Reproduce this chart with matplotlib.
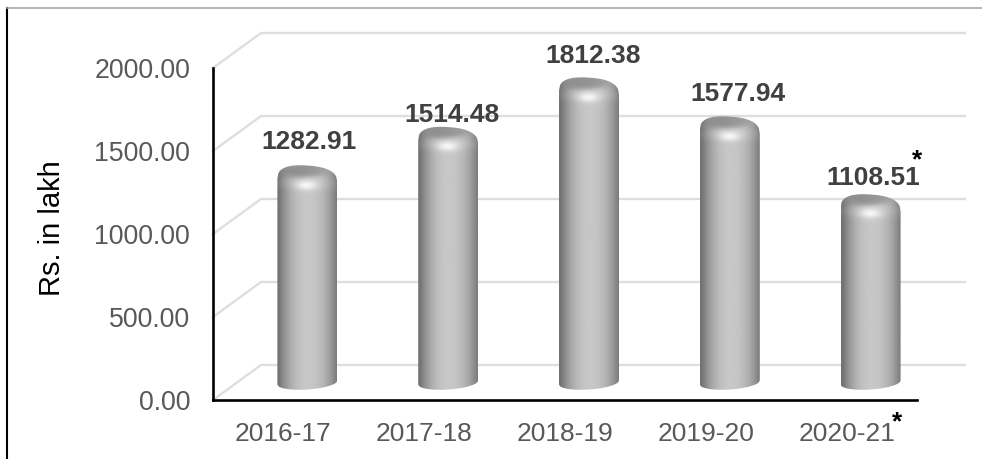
import matplotlib
matplotlib.use('Agg')
import matplotlib.pyplot as plt
import numpy as np
from matplotlib.lines import Line2D
from matplotlib.path import Path

years = ['2016-17', '2017-18', '2018-19', '2019-20', '2020-21']
values = [1282.91, 1514.48, 1812.38, 1577.94, 1108.51]
yticks = [0, 500, 1000, 1500, 2000]

# label shifts in pixels, they were placed by hand in the original
label_dx = [2, 4, 4, 8, 3]
label_dy = [28, 16, 26, 27, 20]

W, H = 982, 459
plt.rcParams['font.family'] = ['Liberation Sans', 'DejaVu Sans']

fig = plt.figure(figsize=(W / 100, H / 100), dpi=100)
left, right, top, bottom = 213, 917, 68, 400
ax = fig.add_axes([left / W, 1 - bottom / H, (right - left) / W, (bottom - top) / H])
ax.set_xlim(-0.5, 4.5)
ax.set_ylim(0, 2000)
ax.patch.set_alpha(0)

px_x = 5 / (right - left)
px_y = 2000 / (bottom - top)
back_x, back_y = 48 * px_x, 35 * px_y

# back wall lines and floor/wall diagonals
for t in yticks:
    ax.plot([-0.5, -0.5 + back_x, 4.5 + back_x], [t, t + back_y, t + back_y],
            color='#dedede', lw=1.7, clip_on=False, zorder=1, solid_joinstyle='miter')


def bar_image(nx, ny, dome):
    # grey levels for one cylinder, rows run from the top down
    u = np.linspace(-1, 1, nx)[None, :]
    v = np.arange(ny)[:, None] - dome
    g = 0.45 + 0.33 * (1 - np.abs(u - 0.05) ** 2.2).clip(0)
    # darker upper face
    face = np.exp(-((u / 0.95) ** 2 + ((v + 1 + 2 * u) / 8) ** 2) ** 2)
    g = g * (1 - face) + (0.58 + 0.06 * u) * face
    # soft shoulder and highlight below it
    g += 0.04 * np.exp(-((v - 12) / 6) ** 2)
    g += 0.16 * np.exp(-((u + 0.03) / 0.36) ** 2 - ((v - 15) / 4.5) ** 2)
    return np.clip(g, 0, 1)


rx = 30
for i, val in enumerate(values):
    cx = i + back_x / 2
    base = back_y / 2
    top_val = val + base
    u = np.linspace(-1, 1, 60)
    # outline in data units: rounded top, then the curved foot
    hump = (1 - np.abs(u) ** 2.5) ** (1 / 2.5)
    top_y = top_val - (11 + 2 * u - 15 * hump) * px_y
    foot_y = base - (7 * np.sqrt(1 - u ** 2) - 2 * u) * px_y
    xs = np.r_[cx + u * rx * px_x, cx + u[::-1] * rx * px_x]
    ys = np.r_[top_y, foot_y[::-1]]
    ext_top = top_val + 6 * px_y
    ext_bot = base - 10 * px_y
    ny = int((ext_top - ext_bot) / px_y)
    im = ax.imshow(bar_image(rx * 2, ny, 6), cmap='gray', vmin=0, vmax=1, aspect='auto',
                   extent=[cx - rx * px_x, cx + rx * px_x, ext_bot, ext_top],
                   zorder=3, interpolation='bilinear')
    im.set_clip_path(Path(np.c_[xs, ys]), transform=ax.transData)
    ax.annotate(f'{val:.2f}', (cx, top_val), xytext=(label_dx[i] * 0.72, label_dy[i] * 0.72),
                textcoords='offset points', ha='center', va='center', fontsize=19,
                fontweight='bold', color='#404040', zorder=4, annotation_clip=False)

ax.set_xlim(-0.5, 4.5)
ax.set_ylim(0, 2000)
ax.set_xticks(range(5), years)
ax.set_yticks(yticks, [f'{t:.2f}' for t in yticks])
ax.tick_params(axis='x', length=0, pad=15.5, labelsize=19, labelcolor='#595959')
ax.tick_params(axis='y', length=0, pad=16.5, labelsize=19.2, labelcolor='#595959')
for s in ['top', 'right']:
    ax.spines[s].set_visible(False)
for s in ['left', 'bottom']:
    ax.spines[s].set_linewidth(1.9)
    ax.spines[s].set_color('black')

fig.text(52.5 / W, 1 - 228 / H, 'Rs. in lakh', rotation=90, ha='center', va='center',
         fontsize=21, color='black')
fig.text(917 / W, 1 - 160 / H, '*', ha='center', va='center', fontsize=19, fontweight='bold', color='black')
fig.text(897 / W, 1 - 422 / H, '*', ha='center', va='center', fontsize=19, fontweight='bold', color='black')

# outer frame, only the left and top edges show
fig.add_artist(Line2D([7 / W, 7 / W], [0, 1 - 8 / H], color='black', lw=1.5))
fig.add_artist(Line2D([7 / W, 1], [1 - 8 / H, 1 - 8 / H], color='#a8a8a8', lw=1.2))

plt.savefig('out.png', dpi=100)
